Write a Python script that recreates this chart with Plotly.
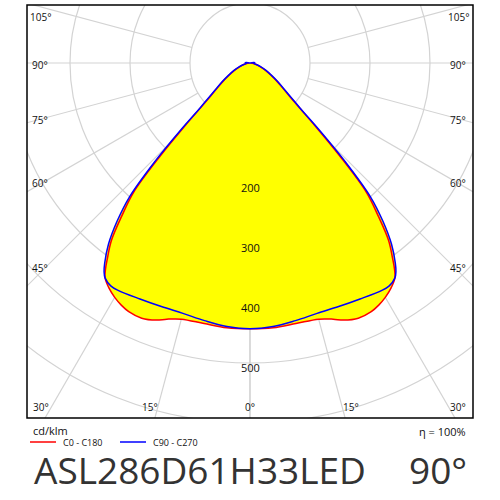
import numpy as np
import plotly.graph_objects as go

# gamma angles (deg) and intensities (cd/klm)
angles_red = [0, 5, 10, 15, 18, 20, 23, 26, 28, 30, 32, 34, 35, 36, 38, 40, 42, 44, 46, 48, 50, 52, 56, 60, 65, 70, 75, 80, 85, 90]
c0_c180 = [443, 443, 441, 442, 449, 456, 462, 461, 457, 451, 443, 432, 420, 405, 375, 332, 290, 215, 150, 108, 86, 72, 54, 40, 28, 18, 12, 7, 4, 1]
angles_blue = [0, 5, 10, 15, 20, 25, 30, 32, 34, 35, 36, 38, 40, 42, 44, 46, 48, 50, 52, 56, 60, 65, 70, 75, 80, 85, 88, 90, 92, 95, 98, 100]
c90_c270 = [443, 441, 436, 432, 432, 434, 438, 438, 432, 424, 412, 383, 345, 300, 228, 160, 112, 90, 75, 56, 42, 30, 20, 13, 8, 6, 6, 5, 6, 8, 6, 0]
rings = [100, 200, 300, 400, 500, 600, 700]
ring_labels = [200, 300, 400, 500]
spoke_angles = [0, 15, 30, 45, 60, 75, 90, 105]

def full_curve(ang, val):
    a = np.array(ang, float); v = np.array(val, float)
    a_full = np.concatenate([-a[::-1], a[1:]])
    v_full = np.concatenate([v[::-1], v[1:]])
    t = np.radians(a_full)
    return v_full * np.sin(t), -v_full * np.cos(t)

S = 0.6  # px per cd
X0 = 223 / S
YT, YB = 58 / S, -355 / S
fig = go.Figure()
grid = "#d3d3d3"
for r in rings:
    fig.add_shape(type="circle", x0=-r, x1=r, y0=-r, y1=r, line=dict(color=grid, width=1.2), layer="below")
for a in spoke_angles:
    for s in (-1, 1):
        t = np.radians(a) * s
        fig.add_shape(type="line", x0=100*np.sin(t), y0=-100*np.cos(t), x1=1200*np.sin(t), y1=-1200*np.cos(t),
                      line=dict(color=grid, width=1.2), layer="below")

xr, yr = full_curve(angles_red, c0_c180)
xb, yb = full_curve(angles_blue, c90_c270)
for x, y in ((xr, yr), (xb, yb)):
    fig.add_trace(go.Scatter(x=x, y=y, fill="toself", fillcolor="#ffff00", line=dict(width=0, shape="spline"), mode="lines", hoverinfo="skip"))
fig.add_trace(go.Scatter(x=xr, y=yr, mode="lines", line=dict(color="#ff0000", width=1.5, shape="spline")))
fig.add_trace(go.Scatter(x=xb, y=yb, mode="lines", line=dict(color="#0000ff", width=1.5, shape="spline")))

ann = []
for r in ring_labels:
    ann.append(dict(x=0, y=-r, text=str(r), showarrow=False, xref="x", yref="y", yshift=-4,
                    font=dict(size=11, color="#111")))
def py(p):
    return (418 - p) / 413
def px(p):
    return (p - 27) / 446
def A(x, y, text, size, color="#111", anchor="center"):
    return dict(x=px(x), y=py(y), text=text, showarrow=False, xref="paper", yref="paper",
                xanchor=anchor, yanchor="middle", font=dict(size=size, color=color))
side = [("105°", 17), ("90°", 65), ("75°", 120), ("60°", 183), ("45°", 268)]
for t, yy in side:
    ann.append(A(40, yy, t, 10))
    ann.append(A(458, yy, t, 10))
for t, xx in [("30°", 41), ("15°", 150), ("0°", 250), ("15°", 351), ("30°", 458)]:
    ann.append(A(xx, 407, t, 10))
ann += [
    A(31, 430, "cd/klm", 11, anchor="left"),
    A(61, 442, "C0 - C180", 9, anchor="left"),
    A(151, 442, "C90 - C270", 9, anchor="left"),
    A(468, 432, "η = 100%", 11, anchor="right"),
    A(32, 469, "ASL286D61H33LED", 37, "#333", "left"),
    A(469, 469, "90°", 37, "#333", "right"),
]
shapes_extra = [
    dict(type="rect", xref="paper", yref="paper", x0=0, x1=1, y0=0, y1=1, line=dict(color="black", width=1.5)),
    dict(type="line", xref="paper", yref="paper", x0=px(30), x1=px(56), y0=py(442), y1=py(442), line=dict(color="#ff0000", width=1.5)),
    dict(type="line", xref="paper", yref="paper", x0=px(120), x1=px(146), y0=py(442), y1=py(442), line=dict(color="#0000ff", width=1.5)),
]
for s in shapes_extra:
    fig.add_shape(**s)
fig.update_layout(
    width=500, height=500, margin=dict(l=27, r=27, t=5, b=82), showlegend=False,
    plot_bgcolor="white", paper_bgcolor="white", annotations=ann,
    font=dict(family="Open Sans"),
    xaxis=dict(range=[-X0, X0], visible=False, fixedrange=True),
    yaxis=dict(range=[YB, YT], visible=False, fixedrange=True),
)
fig.write_html("out.html", config={"displayModeBar": False},
               post_script="document.body.style.margin='0';document.body.style.overflow='hidden';")
